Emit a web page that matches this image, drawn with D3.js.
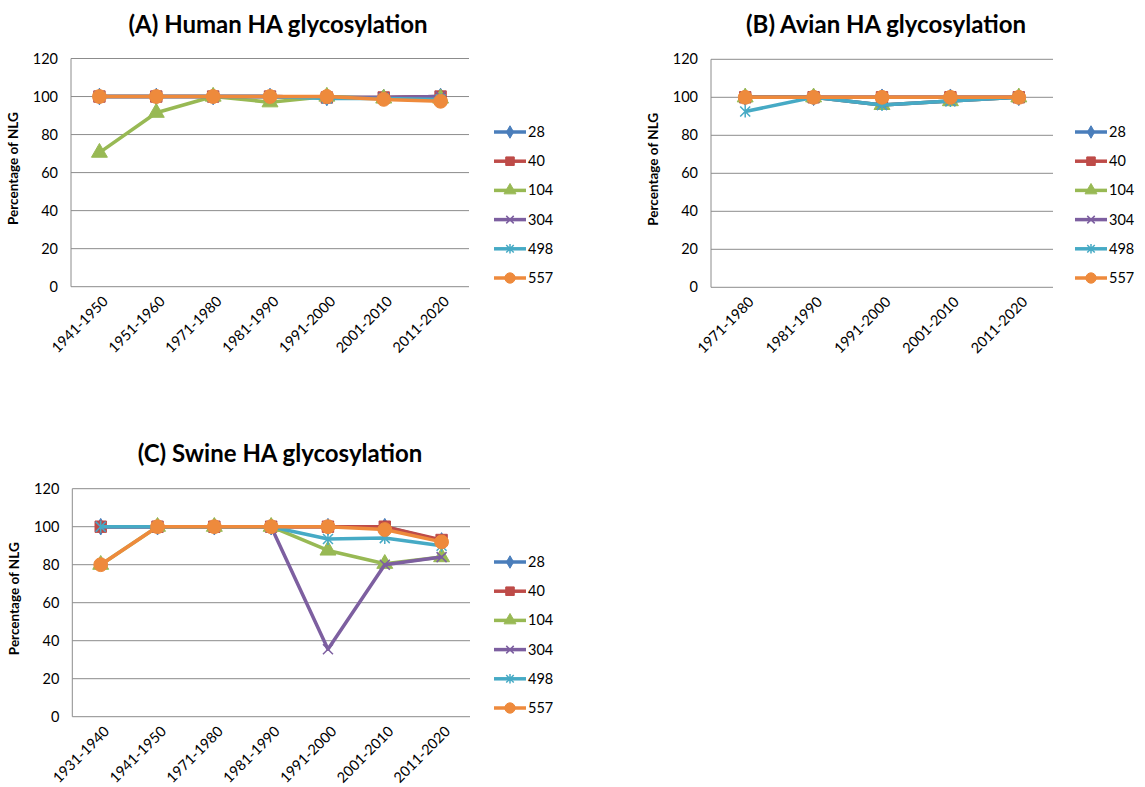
<!DOCTYPE html>
<html lang="en">
<head>
<meta charset="UTF-8">
<title>HA glycosylation</title>
<script src="https://d3js.org/d3.v7.min.js"></script>
<style>
    body { margin: 0; background: #fff; }
    text { font-family: Lato, "Open Sans", sans-serif; fill: #000; }
    .grid line { stroke: #8c8c8c; stroke-width: 1px; }
    .axis path, .axis line { stroke: #8c8c8c; }
</style>
</head>
<body>
<svg width="1145" height="787"></svg>
<script>
// series names (glycosylation sites)
const sites = ["28", "40", "104", "304", "498", "557"];
const colors = ["#4A7EBB", "#BE4B48", "#98B954", "#7D5FA0", "#46AAC5", "#EE8A3C"];
const yTicks = [0, 20, 40, 60, 80, 100, 120];

// (A) Human
const humanDecades = ["1941-1950", "1951-1960", "1971-1980", "1981-1990", "1991-2000", "2001-2010", "2011-2020"];
const human28  = [100, 100, 100, 100, 99.5, 99.5, 100];
const human40  = [100, 100, 100, 100, 99.5, 99.5, 100];
const human104 = [70.5, 91.5, 100, 97, 100, 99, 99];
const human304 = [100, 100, 100, 100, 99.5, 99.5, 100];
const human498 = [100, 100, 100, 100, 99, 99, 98.5];
const human557 = [100, 100, 100, 100, 100, 98.5, 97.5];

// (B) Avian
const avianDecades = ["1971-1980", "1981-1990", "1991-2000", "2001-2010", "2011-2020"];
const avian28  = [100, 100, 100, 100, 100];
const avian40  = [100, 100, 100, 100, 100];
const avian104 = [100, 100, 96, 98, 100];
const avian304 = [100, 100, 96, 98, 100];
const avian498 = [92.5, 100, 96, 98, 100];
const avian557 = [100, 100, 100, 100, 100];

// (C) Swine
const swineDecades = ["1931-1940", "1941-1950", "1971-1980", "1981-1990", "1991-2000", "2001-2010", "2011-2020"];
const swine28  = [100, 100, 100, 100, 100, 100, 92.5];
const swine40  = [100, 100, 100, 100, 100, 100, 93];
const swine104 = [80, 100, 100, 100, 87.5, 80.5, 84];
const swine304 = [100, 100, 100, 100, 35.5, 80, 84];
const swine498 = [100, 100, 100, 100, 93.5, 94, 90];
const swine557 = [80, 100, 100, 100, 100, 98.5, 92];

const svg = d3.select("svg");

// marker shapes, k scales them (legend uses smaller ones)
function markerPath(i, k) {
    if (i === 0) return d3.symbol().type(d3.symbolDiamond).size(80 * k * k)();
    if (i === 1) return d3.symbol().type(d3.symbolSquare).size(130 * k * k)();
    if (i === 2) return d3.symbol().type(d3.symbolTriangle).size(110 * k * k)();
    if (i === 5) return d3.symbol().type(d3.symbolCircle).size(150 * k * k)();
    let s = 5 * k;
    let p = `M${-s},${-s}L${s},${s}M${-s},${s}L${s},${-s}`;
    if (i === 4) p += `M0,${-s - 1}L0,${s + 1}`;
    return p;
}

function addMarker(sel, si, k) {
    sel.attr("d", markerPath(si, k))
        .attr("fill", si === 3 || si === 4 ? "none" : colors[si])
        .attr("stroke", colors[si])
        .attr("stroke-width", si === 3 || si === 4 ? 1.5 : 1);
}

function drawPanel(opt) {
    let g = svg.append("g");
    let x = d3.scaleBand().domain(opt.cats).range([opt.left, opt.right]);
    let y = d3.scaleLinear().domain([0, 120]).range([opt.bottom, opt.top]);

    // gridlines
    g.append("g").attr("class", "grid")
        .selectAll("line").data(yTicks.slice(1)).join("line")
        .attr("x1", opt.left).attr("x2", opt.right)
        .attr("y1", d => y(d)).attr("y2", d => y(d));

    // y axis
    let ya = g.append("g").attr("class", "axis")
        .attr("transform", `translate(${opt.left},0)`)
        .call(d3.axisLeft(y).tickValues(yTicks).tickSize(0).tickPadding(13));
    ya.select(".domain").attr("d", `M0,${opt.bottom}V${opt.top}`);
    ya.selectAll("text").style("font-size", "14.5px").attr("fill", "#000");

    // x axis
    let xa = g.append("g").attr("class", "axis")
        .attr("transform", `translate(0,${opt.bottom})`)
        .call(d3.axisBottom(x).tickSize(0).tickFormat(""));
    xa.select(".domain").attr("d", `M${opt.left},0H${opt.right}`);
    g.append("g").selectAll("text").data(opt.cats).join("text")
        .attr("transform", d => `translate(${x(d) + x.bandwidth() / 2 + 6},${opt.bottom + 12}) rotate(-45)`)
        .attr("text-anchor", "end")
        .attr("dy", "0.35em")
        .style("font-size", "14.5px")
        .text(d => d);

    // title
    g.append("text")
        .attr("x", opt.titleX).attr("y", opt.titleY)
        .attr("text-anchor", "middle")
        .style("font-size", "24px").style("font-weight", "bold")
        .text(opt.title);

    // y label
    g.append("text")
        .attr("transform", `translate(${opt.left - 53},${(opt.top + opt.bottom) / 2 - 4}) rotate(-90)`)
        .attr("text-anchor", "middle")
        .style("font-size", "13.5px").style("font-weight", "bold")
        .text("Percentage of NLG");

    let line = d3.line()
        .x((d, i) => x(opt.cats[i]) + x.bandwidth() / 2)
        .y(d => y(d));

    opt.series.forEach((vals, si) => {
        let sg = g.append("g");
        sg.append("path")
            .attr("d", line(vals))
            .attr("fill", "none")
            .attr("stroke", colors[si])
            .attr("stroke-width", 3.5)
            .attr("stroke-linejoin", "round");
        sg.selectAll("path.m").data(vals).join("path")
            .attr("class", "m")
            .attr("transform", (d, i) => `translate(${x(opt.cats[i]) + x.bandwidth() / 2},${y(d)})`)
            .call(addMarker, si, 1);
    });

    // legend
    let lg = g.append("g").attr("transform", `translate(${opt.legendX},${opt.legendY})`);
    sites.forEach((s, si) => {
        let row = lg.append("g").attr("transform", `translate(0,${si * 29.2})`);
        row.append("line").attr("x1", 0).attr("x2", 32)
            .attr("stroke", colors[si]).attr("stroke-width", 3.5);
        row.append("path").attr("transform", "translate(16,0)")
            .call(addMarker, si, 0.75);
        row.append("text").attr("x", 34).attr("dy", "0.35em")
            .style("font-size", "14.5px").text(s);
    });
}

drawPanel({
    title: "(A) Human HA glycosylation", titleX: 278, titleY: 33,
    cats: humanDecades,
    series: [human28, human40, human104, human304, human498, human557],
    left: 71, right: 469, top: 58.5, bottom: 286.7,
    legendX: 494, legendY: 132
});

drawPanel({
    title: "(B) Avian HA glycosylation", titleX: 886, titleY: 33,
    cats: avianDecades,
    series: [avian28, avian40, avian104, avian304, avian498, avian557],
    left: 711, right: 1053, top: 59.3, bottom: 287.3,
    legendX: 1075, legendY: 132
});

drawPanel({
    title: "(C) Swine HA glycosylation", titleX: 280, titleY: 462,
    cats: swineDecades,
    series: [swine28, swine40, swine104, swine304, swine498, swine557],
    left: 72.3, right: 470, top: 488.7, bottom: 716.7,
    legendX: 494, legendY: 562
});
</script>
</body>
</html>
